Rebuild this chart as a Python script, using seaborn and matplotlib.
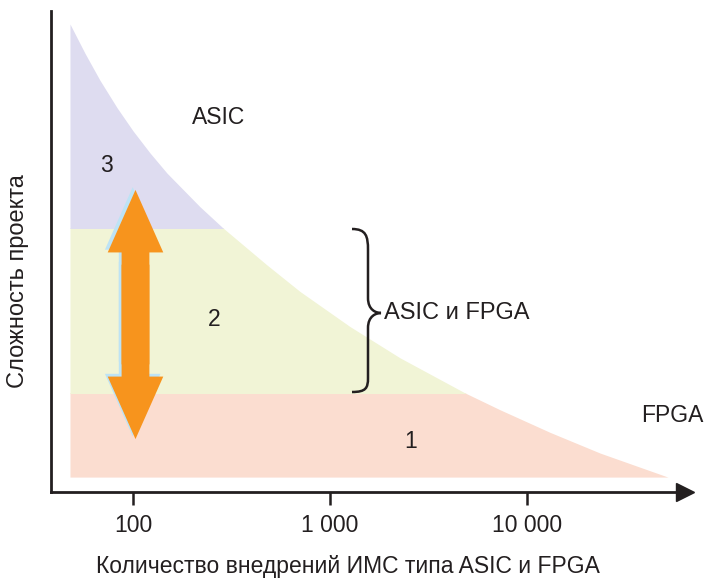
import numpy as np
import matplotlib
matplotlib.use("Agg")
import matplotlib.pyplot as plt
import matplotlib.patheffects as pe
from matplotlib.patches import Rectangle, FancyArrowPatch, PathPatch
from matplotlib.path import Path
from matplotlib.transforms import Affine2D
import seaborn as sns

# ---- data ----
curve_x = [47.9, 57.1, 68.0, 83.0, 100, 122, 148.8, 218.9, 286.3, 478.8, 704,
           1263, 2266, 4845, 7295, 13090, 23480, 51960]
curve_y = [97.3, 91.2, 85.6, 79.9, 75.1, 70.5, 66.3, 59.3, 54.9, 47.2, 41.7,
           34.4, 27.9, 20.6, 17.1, 12.4, 8.1, 3.1]
band_edges = [3.1, 20.6, 54.9, 100.0]          # region 1 / 2 / 3 limits
band_colors = ["#FBDDD0", "#F1F4D6", "#DEDCF0"]
region_labels = ["1", "2", "3"]
tick_values = [100, 1000, 10000]
tick_labels = ["100", "1 000", "10 000"]
arrow_range = (11.0, 62.8)   # double arrow spans complexity values
arrow_x = 103

sns.set_style("white")
plt.rcParams["font.family"] = ["Liberation Sans", "DejaVu Sans"]

W, H = 704, 580
fig = plt.figure(figsize=(W / 100, H / 100), dpi=100)
ax = fig.add_axes([51 / W, 88 / H, 634 / W, 481 / H])
ax.set_xscale("log")
ax.set_xlim(10 ** 1.584, 10 ** 4.802)
ax.set_ylim(0, 100)

# filled regions under the curve, each clipped to its band
btrans = ax.get_yaxis_transform()
for i, col in enumerate(band_colors):
    poly = ax.fill_between(curve_x, band_edges[0], curve_y, color=col, lw=0, zorder=1)
    clip = Rectangle((0, band_edges[i]), 1, band_edges[i + 1] - band_edges[i],
                     transform=btrans, facecolor="none", edgecolor="none")
    ax.add_patch(clip)
    poly.set_clip_path(clip)

# axes styling
for s in ["top", "right"]:
    ax.spines[s].set_visible(False)
for s in ["left", "bottom"]:
    ax.spines[s].set_color("#231f20")
    ax.spines[s].set_linewidth(2.0)
ax.set_yticks([])
ax.set_xticks(tick_values)
ax.set_xticklabels(tick_labels)
ax.xaxis.set_minor_locator(matplotlib.ticker.NullLocator())
ax.tick_params(axis="x", direction="out", length=9, width=1.8, color="#231f20",
               pad=7, labelsize=16.5, labelcolor="#231f20", bottom=True)
# axis arrow heads
ax.plot(1, 0, ">", color="#231f20", ms=13, transform=ax.get_yaxis_transform(),
        clip_on=False, zorder=5)
ax.plot(0, 1, "^", color="#231f20", ms=13, transform=ax.get_xaxis_transform(),
        clip_on=False, zorder=5)

# double arrow: shadows first, then the orange bodies (tails overlap -> no seam)
lo, hi = arrow_range
span = hi - lo
starts = {hi: lo + 0.3 * span, lo: hi - 0.3 * span}
style = "simple,head_length=45,head_width=40,tail_width=20"
for end in arrow_range:
    sh = FancyArrowPatch((arrow_x, starts[end]), (arrow_x, end), arrowstyle=style,
                         mutation_scale=1, shrinkA=0, shrinkB=0,
                         color="#F7941D", lw=0, zorder=3)
    sh.set_path_effects([pe.SimplePatchShadow(offset=(-2, 2), shadow_rgbFace="#BDE3F5", alpha=1.0)])
    ax.add_patch(sh)
for end in arrow_range:
    arr = FancyArrowPatch((arrow_x, starts[end]), (arrow_x, end), arrowstyle=style,
                          mutation_scale=1, shrinkA=0, shrinkB=0,
                          color="#F7941D", lw=0, zorder=4)
    ax.add_patch(arr)

# brace (figure pixel coordinates, y from top)
pix = Affine2D().scale(1, -1).translate(0, H)
verts = [(352, 229), (366, 229), (368, 236), (368, 250),
         (368, 298), (368, 298), (368, 298),
         (368, 310), (376, 313), (381, 313),
         (376, 313), (368, 316), (368, 328),
         (368, 378), (368, 378), (368, 378),
         (368, 388), (366, 392), (352, 392)]
codes = [Path.MOVETO, Path.CURVE4, Path.CURVE4, Path.CURVE4,
         Path.LINETO, Path.LINETO, Path.LINETO,
         Path.CURVE4, Path.CURVE4, Path.CURVE4,
         Path.CURVE4, Path.CURVE4, Path.CURVE4,
         Path.LINETO, Path.LINETO, Path.LINETO,
         Path.CURVE4, Path.CURVE4, Path.CURVE4]
brace = PathPatch(Path(verts, codes), transform=pix,
                  facecolor="none", edgecolor="#231f20", lw=1.8, clip_on=False, zorder=5)
fig.add_artist(brace)

tc = "#231f20"
fs = 16.5
def ftext(px, py, s, **kw):
    fig.text(px / W, 1 - py / H, s, fontsize=kw.pop("fontsize", fs), color=tc, **kw)

ftext(219, 118, "ASIC", ha="center", va="center")
ftext(106, 165, region_labels[2], ha="center", va="center")
ftext(214, 320, region_labels[1], ha="center", va="center")
ftext(411, 442, region_labels[0], ha="center", va="center")
ftext(384, 313, "ASIC и FPGA", ha="left", va="center", fontsize=17)
ftext(641, 416, "FPGA", ha="left", va="center")
ftext(18, 281, "Сложность проекта", ha="center", va="center", rotation=90, fontsize=17)
ftext(348, 555, "Количество внедрений ИМС типа ASIC и FPGA", ha="center", va="top")

fig.savefig("out.png", dpi=100)
